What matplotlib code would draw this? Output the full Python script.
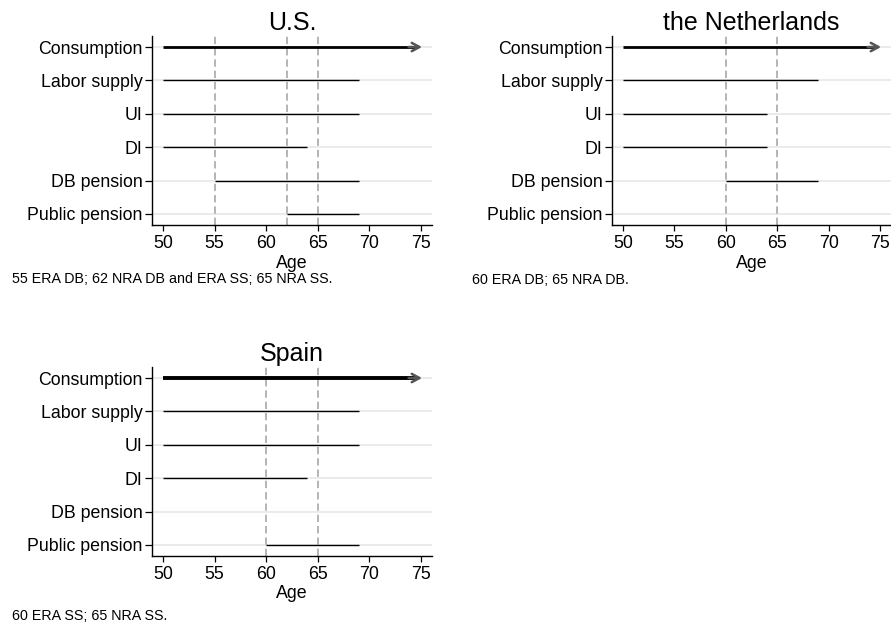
import matplotlib
matplotlib.use("Agg")
import matplotlib.pyplot as plt

plt.rcParams['font.family'] = ['Liberation Sans', 'DejaVu Sans']

# rows from top to bottom
CATEGORIES = ["Consumption", "Labor supply", "UI", "DI", "DB pension", "Public pension"]
AGE_TICKS = [50, 55, 60, 65, 70, 75]

# (start, end) age of each row, None when the row is empty
US_SPANS = [(50, 75), (50, 69), (50, 69), (50, 64), (55, 69), (62, 69)]
NL_SPANS = [(50, 75), (50, 69), (50, 64), (50, 64), (60, 69), None]
ES_SPANS = [(50, 75), (50, 69), (50, 69), (50, 64), None, (60, 69)]

US_VLINES = [55, 62, 65]
NL_VLINES = [60, 65]
ES_VLINES = [60, 65]

US_NOTE = "55 ERA DB; 62 NRA DB and ERA SS; 65 NRA SS."
NL_NOTE = "60 ERA DB; 65 NRA DB."
ES_NOTE = "60 ERA SS; 65 NRA SS."

W, H = 891, 629
fig = plt.figure(figsize=(W / 100, H / 100), dpi=100)


def px_axes(left, top, right, bottom):
    return fig.add_axes([left / W, 1 - bottom / H, (right - left) / W, (bottom - top) / H])


def panel(ax, title, spans, vlines, note, note_xy, cons_lw):
    n = len(CATEGORIES)
    ys = list(range(n - 1, -1, -1))
    for y in ys:
        ax.axhline(y, color="#e6e6e6", lw=1.1, zorder=0)
    for v in vlines:
        ax.axvline(v, color="#a0a0a0", lw=1.1, dashes=(4.8, 2.6), zorder=1)
    for i, (y, sp) in enumerate(zip(ys, spans)):
        if sp is None:
            continue
        if i == 0:
            # consumption: line with an open grey arrow head
            ax.plot([sp[0], sp[1] - 0.4], [y, y], color="black", lw=cons_lw,
                    solid_capstyle="butt", zorder=3)
            ax.annotate("", xy=(sp[1] + 0.1, y), xytext=(sp[1] - 1.2, y),
                        arrowprops=dict(arrowstyle="->,head_length=0.55,head_width=0.3",
                                        color="#555555", lw=1.8, shrinkA=0, shrinkB=0),
                        zorder=4)
        else:
            ax.plot(sp, [y, y], color="black", lw=1.0, solid_capstyle="butt", zorder=3)
    ax.set_xlim(48.93, 76.07)
    ax.set_ylim(-0.33, n - 1 + 0.33)
    ax.set_yticks(ys)
    ax.set_yticklabels(CATEGORIES, fontsize=12.8)
    ax.set_xticks(AGE_TICKS)
    ax.set_xticklabels([str(t) for t in AGE_TICKS], fontsize=12.8)
    ax.set_xlabel("Age", fontsize=12.8, labelpad=2)
    ax.set_title(title, fontsize=18, pad=4)
    for s in ["top", "right"]:
        ax.spines[s].set_visible(False)
    for s in ["left", "bottom"]:
        ax.spines[s].set_linewidth(1.0)
    ax.tick_params(axis="y", length=5, width=0.9, pad=2)
    ax.tick_params(axis="x", length=4, width=0.9, pad=3)
    fig.text(note_xy[0] / W, 1 - note_xy[1] / H, note, fontsize=10.3, va="center", ha="left")


ax1 = px_axes(152, 36, 432, 225)
panel(ax1, "U.S.", US_SPANS, US_VLINES, US_NOTE, (12, 279), 2.0)

ax2 = px_axes(612, 36, 891, 225)
panel(ax2, "the Netherlands", NL_SPANS, NL_VLINES, NL_NOTE, (472, 280), 2.0)

ax3 = px_axes(152, 367, 432, 556)
panel(ax3, "Spain", ES_SPANS, ES_VLINES, ES_NOTE, (12, 616), 2.8)

fig.savefig("out.png", dpi=100)
